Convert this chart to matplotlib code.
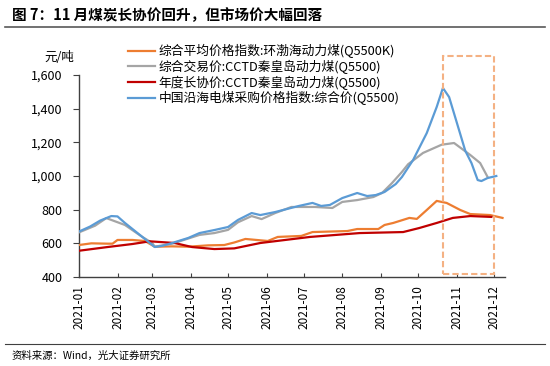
import matplotlib
matplotlib.use("Agg")
import matplotlib.pyplot as plt
import matplotlib.dates as mdates
from matplotlib.ticker import FuncFormatter
from matplotlib.patches import Rectangle
from matplotlib.lines import Line2D
import pandas as pd

plt.rcParams['font.family'] = ['Noto Sans CJK SC', 'DejaVu Sans']

title = "图 7：11 月煤炭长协价回升，但市场价大幅回落"
source = "资料来源：Wind，光大证券研究所"
unit = "元/吨"

names = ["综合平均价格指数:环渤海动力煤(Q5500K)",
         "综合交易价:CCTD秦皇岛动力煤(Q5500)",
         "年度长协价:CCTD秦皇岛动力煤(Q5500)",
         "中国沿海电煤采购价格指数:综合价(Q5500)"]
colors = ["#ED7D31", "#A5A5A5", "#C00000", "#5B9BD5"]

# Bohai-Rim index (orange)
bohai_dates = ["2021-01-01", "2021-01-11", "2021-01-24", "2021-01-28", "2021-02-01", "2021-02-13",
               "2021-02-23", "2021-03-03", "2021-03-17", "2021-03-30", "2021-04-15", "2021-04-28",
               "2021-05-06", "2021-05-15", "2021-06-02", "2021-06-10", "2021-06-29", "2021-07-08",
               "2021-08-05", "2021-08-13", "2021-08-30", "2021-09-04", "2021-09-11", "2021-09-24",
               "2021-09-30", "2021-10-08", "2021-10-16", "2021-10-24", "2021-11-04", "2021-11-12",
               "2021-11-28", "2021-12-08"]
bohai_vals = [590, 600, 598, 598, 620, 620, 614, 580, 582, 580, 588, 590, 605, 626, 614, 638,
              644, 667, 673, 685, 685, 709, 721, 751, 745, 798, 852, 840, 798, 774, 768, 751]

# CCTD trading price (gray)
cctd_dates = ["2021-01-01", "2021-01-14", "2021-01-23", "2021-02-07", "2021-02-21", "2021-03-01",
              "2021-03-03", "2021-03-17", "2021-04-08", "2021-04-20", "2021-05-01", "2021-05-09",
              "2021-05-20", "2021-05-28", "2021-06-08", "2021-06-21", "2021-07-10", "2021-07-24",
              "2021-08-01", "2021-08-13", "2021-08-26", "2021-09-02", "2021-09-10", "2021-09-18",
              "2021-09-23", "2021-10-05", "2021-10-20", "2021-10-30", "2021-11-12", "2021-11-20",
              "2021-11-26"]
cctd_vals = [665, 705, 750, 709, 638, 602, 580, 598, 650, 661, 680, 725, 762, 744, 780, 816,
             816, 810, 846, 857, 875, 899, 958, 1024, 1070, 1137, 1186, 1196, 1125, 1077, 994]

# CCTD annual contract price (red)
lt_dates = ["2021-01-01", "2021-01-24", "2021-02-13", "2021-02-27", "2021-03-19", "2021-04-02",
            "2021-04-20", "2021-05-06", "2021-05-27", "2021-07-06", "2021-08-15", "2021-09-19",
            "2021-10-02", "2021-10-16", "2021-10-29", "2021-11-12", "2021-11-29"]
lt_vals = [556, 578, 596, 612, 602, 578, 566, 570, 602, 638, 661, 667, 691, 721, 751, 762, 757]

# Coastal thermal coal purchase index (blue)
coastal_dates = ["2021-01-01", "2021-01-10", "2021-01-18", "2021-01-27", "2021-02-01", "2021-02-07",
                 "2021-02-21", "2021-03-03", "2021-03-09", "2021-03-17", "2021-03-30", "2021-04-08",
                 "2021-04-20", "2021-05-01", "2021-05-09", "2021-05-20", "2021-05-27", "2021-06-08",
                 "2021-06-27", "2021-07-08", "2021-07-15", "2021-07-22", "2021-08-01", "2021-08-13",
                 "2021-08-21", "2021-08-28", "2021-09-04", "2021-09-13", "2021-09-18", "2021-09-27",
                 "2021-10-08", "2021-10-16", "2021-10-21", "2021-10-26", "2021-11-03", "2021-11-08",
                 "2021-11-13", "2021-11-18", "2021-11-21", "2021-11-26", "2021-12-03"]
coastal_vals = [670, 700, 735, 762, 760, 721, 638, 578, 585, 602, 632, 661, 679, 697, 739, 780,
                768, 786, 822, 840, 822, 828, 869, 899, 881, 887, 905, 952, 994, 1095, 1255,
                1410, 1523, 1469, 1273, 1150, 1077, 976, 970, 988, 1000]

month_ticks = ["2021-01", "2021-02", "2021-03", "2021-04", "2021-05", "2021-06",
               "2021-07", "2021-08", "2021-09", "2021-10", "2021-11", "2021-12"]
yticks = [400, 600, 800, 1000, 1200, 1400, 1600]

box_start, box_end = "2021-10-21", "2021-12-01"
box_low, box_high = 420, 1712

fig = plt.figure(figsize=(5.5, 3.66), dpi=100)
ax = fig.add_axes([79/550, 1-277/366, (505-79)/550, (277-75)/366])

series = [(bohai_dates, bohai_vals), (cctd_dates, cctd_vals),
          (lt_dates, lt_vals), (coastal_dates, coastal_vals)]
handles = []
for i, (d, v) in enumerate(series):
    ln, = ax.plot(pd.to_datetime(d), v, color=colors[i], lw=1.6, solid_joinstyle='round', zorder=3)
    handles.append(ln)

ax.set_ylim(400, 1600)
ax.set_xlim(pd.Timestamp("2021-01-01"), pd.Timestamp("2021-12-10"))
ax.set_yticks(yticks)
ax.yaxis.set_major_formatter(FuncFormatter(lambda v, p: f"{int(v):,}"))
tick_pos = pd.to_datetime([m + "-01" for m in month_ticks])
ax.set_xticks(tick_pos)
ax.set_xticklabels(month_ticks, rotation=90, fontsize=8.5)
for s in ["top", "right"]:
    ax.spines[s].set_visible(False)
for s in ["left", "bottom"]:
    ax.spines[s].set_color("#404040")
    ax.spines[s].set_linewidth(1.0)
ax.tick_params(axis='y', direction='out', length=4, pad=8, labelsize=9, colors="#404040", labelcolor="black")
ax.tick_params(axis='x', direction='in', length=3, pad=6, colors="#404040", labelcolor="black")

x0 = mdates.date2num(pd.Timestamp(box_start))
x1 = mdates.date2num(pd.Timestamp(box_end))
rect = Rectangle((x0, box_low), x1 - x0, box_high - box_low, fill=False,
                 edgecolor="#F4B183", lw=1.5, ls=(0, (3, 1.5)), clip_on=False, zorder=4)
ax.add_patch(rect)

ax.text(-0.01, 1.085, unit, transform=ax.transAxes, ha='right', va='center', fontsize=9)

fig.legend(handles, names, loc='upper left', bbox_to_anchor=(128/550, 1-44/366),
           frameon=False, fontsize=9.2, handlelength=2.1, handletextpad=0.3,
           labelspacing=0.12, borderpad=0, borderaxespad=0)

fig.text(12/550, 1-15/366, title, fontsize=10.5, fontweight='bold', ha='left', va='center')
fig.add_artist(Line2D([5/550, 545/550], [1-27/366, 1-27/366], color="#595959", lw=1.2))
fig.add_artist(Line2D([5/550, 545/550], [1-344/366, 1-344/366], color="#404040", lw=0.8))
fig.text(12/550, 1-356/366, source, fontsize=7.5, ha='left', va='center')

fig.savefig("out.png", dpi=100)
